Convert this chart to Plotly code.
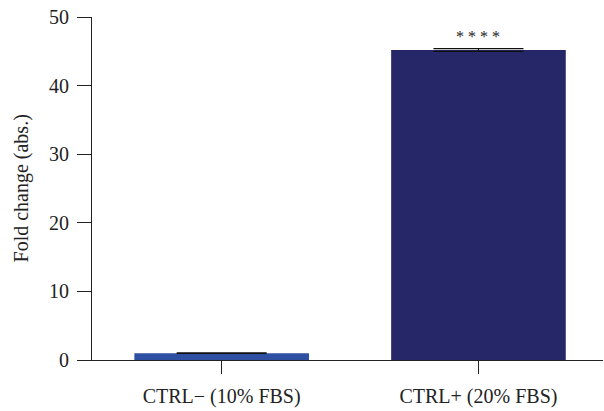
import plotly.graph_objects as go

categories = ["CTRL\u2212 (10% FBS)", "CTRL+ (20% FBS)"]
values = [1.0, 45.2]
errors = [0.05, 0.2]
colors = ["#2F4FA2", "#262769"]
significance = ["", "* * * *"]
y_title = "Fold change (abs.)"

fig = go.Figure()
fig.add_trace(go.Bar(
    x=[0, 1], y=values, width=0.68,
    marker=dict(color=colors, line=dict(width=0)),
    error_y=dict(type="data", array=errors, visible=True, color="#111111", thickness=1.2, width=45),
    showlegend=False,
))
for i, s in enumerate(significance):
    if s:
        fig.add_annotation(x=i, y=values[i] + errors[i] + 1.7, text=s, showarrow=False,
                           font=dict(family="Liberation Serif", size=16, color="#222222"),
                           xref="x", yref="y", yanchor="middle")

font = dict(family="Liberation Serif", size=20, color="#222222")
fig.add_annotation(text=y_title, xref="paper", yref="paper", x=-0.137, y=0.5,
                   xanchor="center", yanchor="middle", textangle=-90, showarrow=False,
                   font=font)
fig.update_layout(
    width=604, height=411,
    margin=dict(l=92, r=1, t=17, b=51),
    paper_bgcolor="white", plot_bgcolor="white",
    font=font,
    xaxis=dict(range=[-0.505, 1.485], tickvals=[0, 1], ticktext=categories,
               showline=True, linecolor="#222222", linewidth=1,
               ticks="outside", ticklen=13, tickcolor="#222222", tickwidth=1,
               showgrid=False, zeroline=False, tickfont=font, automargin=False,
               ticklabelstandoff=5),
    yaxis=dict(range=[0, 50], tickvals=[0, 10, 20, 30, 40, 50],
               showline=True, linecolor="#222222", linewidth=1,
               ticks="outside", ticklen=14, tickcolor="#222222", tickwidth=1,
               showgrid=False, zeroline=False, tickfont=font, automargin=False,
               ticklabelstandoff=4),
)
fig.write_html("out.html", config={"displayModeBar": False},
               post_script="document.body.style.margin='0';document.body.style.overflow='hidden';")
